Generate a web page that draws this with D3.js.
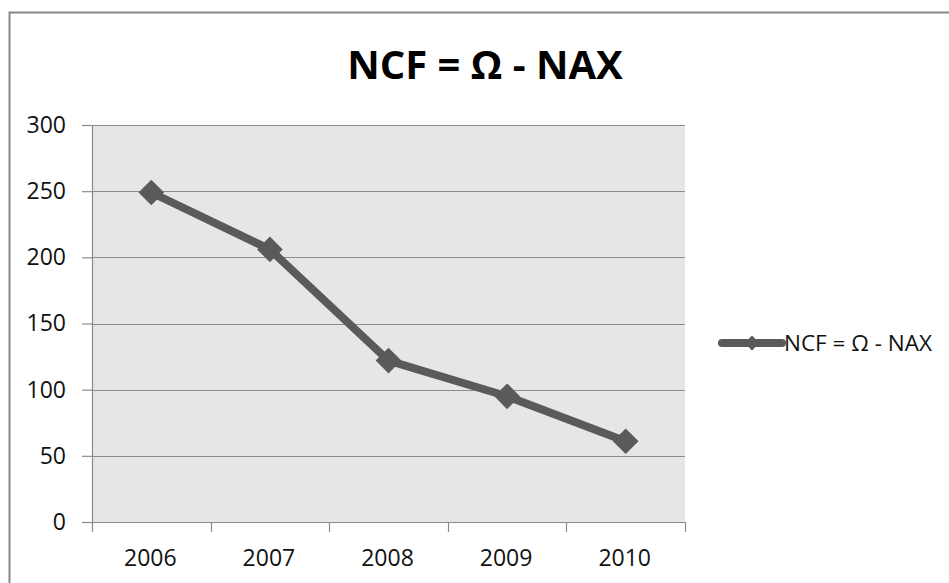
<!DOCTYPE html>
<html>
<head>
<meta charset="utf-8">
<script src="https://cdn.jsdelivr.net/npm/d3@7"></script>
<style>
  html, body { margin: 0; padding: 0; background: #fff; }
  svg { display: block; font-family: "Open Sans", sans-serif; }
</style>
</head>
<body>
<svg id="chart" width="949" height="583"></svg>
<script>
// Net cash flow by year
const years = ["2006", "2007", "2008", "2009", "2010"];
const ncfValues = [249, 206, 122, 95, 61];
const yTicks = [0, 50, 100, 150, 200, 250, 300];
const seriesName = "NCF = Ω - NAX";
const chartTitle = "NCF = Ω - NAX";

const svg = d3.select("#chart");
const plot = { left: 92, right: 685, top: 125, bottom: 522 };
const lineColor = "#5a5a5a";
const gridColor = "#8c8c8c";

// Outer frame
svg.append("rect")
  .attr("x", 9.5).attr("y", 12.5)
  .attr("width", 960).attr("height", 600)
  .attr("fill", "#fff")
  .attr("stroke", "#888").attr("stroke-width", 2);

const x = d3.scaleBand().domain(years).range([plot.left, plot.right]).padding(0);
const y = d3.scaleLinear().domain([0, 300]).range([plot.bottom, plot.top]);

// Plot background
svg.append("rect")
  .attr("x", plot.left).attr("y", plot.top)
  .attr("width", plot.right - plot.left).attr("height", plot.bottom - plot.top)
  .attr("fill", "#e6e6e6");

// Horizontal gridlines
svg.append("g").selectAll("line")
  .data(yTicks.filter(d => d > 0))
  .join("line")
  .attr("x1", plot.left).attr("x2", plot.right)
  .attr("y1", d => Math.round(y(d)) + 0.5).attr("y2", d => Math.round(y(d)) + 0.5)
  .attr("stroke", gridColor).attr("stroke-width", 1.2);

// Y axis
const yAxis = svg.append("g")
  .attr("transform", `translate(${plot.left},0)`)
  .call(d3.axisLeft(y).tickValues(yTicks).tickSize(10).tickPadding(16).tickFormat(d3.format("d")));
yAxis.select(".domain").attr("stroke", gridColor).attr("stroke-width", 1.2);
yAxis.selectAll(".tick line").attr("stroke", gridColor).attr("stroke-width", 1.2);
yAxis.selectAll(".tick text")
  .attr("fill", "#111").style("font-size", "23px").style("font-family", "'Open Sans', sans-serif");

// X axis with ticks at category boundaries
const xAxisG = svg.append("g").attr("transform", `translate(0,${plot.bottom})`);
xAxisG.append("line")
  .attr("x1", plot.left).attr("x2", plot.right)
  .attr("y1", 0.5).attr("y2", 0.5)
  .attr("stroke", gridColor).attr("stroke-width", 1.2);
const boundaries = years.map(d => x(d)).concat([x(years[years.length - 1]) + x.bandwidth()]);
xAxisG.selectAll("line.tick")
  .data(boundaries)
  .join("line").attr("class", "tick")
  .attr("x1", d => Math.round(d) + 0.5).attr("x2", d => Math.round(d) + 0.5)
  .attr("y1", 0).attr("y2", 10)
  .attr("stroke", gridColor).attr("stroke-width", 1.2);
xAxisG.selectAll("text")
  .data(years)
  .join("text")
  .attr("x", d => x(d) + x.bandwidth() / 2 - 1)
  .attr("y", 44)
  .attr("text-anchor", "middle")
  .attr("fill", "#111")
  .style("font-size", "23px")
  .text(d => d);

// Series line
const line = d3.line()
  .x((d, i) => x(years[i]) + x.bandwidth() / 2)
  .y(d => y(d));
svg.append("path")
  .datum(ncfValues)
  .attr("d", line)
  .attr("fill", "none")
  .attr("stroke", lineColor)
  .attr("stroke-width", 8)
  .attr("stroke-linejoin", "round");

// Diamond markers
const diamond = d3.symbol().type(d3.symbolSquare).size(330);
svg.append("g").selectAll("path")
  .data(ncfValues)
  .join("path")
  .attr("d", diamond)
  .attr("transform", (d, i) => `translate(${x(years[i]) + x.bandwidth() / 2},${y(d)}) rotate(45)`)
  .attr("fill", lineColor);

// Title
svg.append("text")
  .attr("x", 485).attr("y", 79)
  .attr("text-anchor", "middle")
  .attr("fill", "#000")
  .style("font-size", "40px")
  .style("font-weight", "bold")
  .text(chartTitle);

// Legend
const legend = svg.append("g").attr("transform", "translate(722,343)");
legend.append("line")
  .attr("x1", 0).attr("x2", 60).attr("y1", 0).attr("y2", 0)
  .attr("stroke", lineColor).attr("stroke-width", 8).attr("stroke-linecap", "round");
legend.append("path")
  .attr("d", d3.symbol().type(d3.symbolSquare).size(110))
  .attr("transform", "translate(30,0) rotate(45)")
  .attr("fill", lineColor);
legend.append("text")
  .attr("x", 62).attr("y", 8)
  .attr("fill", "#111")
  .style("font-size", "22.5px")
  .text(seriesName);
</script>
</body>
</html>
